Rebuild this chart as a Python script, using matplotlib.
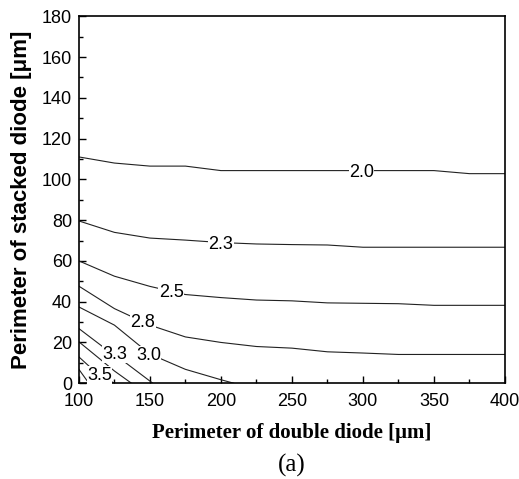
import numpy as np
import matplotlib
matplotlib.use("Agg")
import matplotlib.pyplot as plt

# contour lines (x = double diode, y = stacked diode, in um)
x_200 = [100, 125, 150, 175, 200, 225, 250, 275, 300, 325, 350, 375, 400]
y_200 = [111, 108, 106.5, 106.5, 104.3, 104.3, 104.3, 104.3, 104.3, 104.3, 104.3, 102.8, 102.8]

x_225 = [100, 125, 150, 175, 200, 225, 250, 275, 300, 325, 350, 375, 400]
y_225 = [79.6, 74, 71.2, 70.2, 69, 68.3, 68, 67.8, 66.7, 66.7, 66.7, 66.7, 66.7]

x_250 = [100, 125, 150, 175, 200, 225, 250, 275, 300, 325, 350, 375, 400]
y_250 = [60, 52.5, 47.5, 43.5, 42, 40.8, 40.4, 39.4, 39.2, 39, 38.2, 38.2, 38.2]

x_275 = [100, 125, 150, 175, 200, 225, 250, 275, 300, 325, 350, 375, 400]
y_275 = [47.6, 36.6, 28.5, 22.7, 20, 18, 17.2, 15.4, 14.8, 14.1, 14.1, 14.1, 14.1]

x_300 = [100, 125, 150, 175, 200, 209]
y_300 = [37.4, 28.5, 14.3, 6.8, 1.7, 0]

x_325 = [100, 117, 125, 152]
y_325 = [26.8, 17.8, 14.2, 0]

x_350 = [100, 113, 125, 137]
y_350 = [20.3, 12.9, 6, 0]

x_375 = [100, 114, 125]
y_375 = [12.9, 4, 0]

x_400 = [100, 107]
y_400 = [6.8, 0]

# inline labels
label_text = ["2.0", "2.3", "2.5", "2.8", "3.0", "3.3", "3.5"]
label_x = [299, 200, 165, 145, 149, 125.6, 114.6]
label_y = [103.6, 68.2, 44.3, 29.6, 13.7, 14.2, 3.9]

lines = [(x_200, y_200), (x_225, y_225), (x_250, y_250), (x_275, y_275),
         (x_300, y_300), (x_325, y_325), (x_350, y_350), (x_375, y_375),
         (x_400, y_400)]

fig = plt.figure(figsize=(5.19, 4.79), dpi=100)
ax = fig.add_axes([0.152, 0.200, 0.821, 0.766])

for xs, ys in lines:
    ax.plot(xs, ys, color="#222222", lw=0.8, clip_on=True)

for t, lx, ly in zip(label_text, label_x, label_y):
    ax.text(lx, ly, t, ha="center", va="center", fontsize=13,
            family="Liberation Sans", zorder=5,
            bbox=dict(facecolor="white", edgecolor="none", pad=0.3))

ax.set_xlim(100, 400)
ax.set_ylim(0, 180)
ax.set_xticks(np.arange(100, 401, 50))
ax.set_xticks(np.arange(100, 401, 25), minor=True)
ax.set_yticks(np.arange(0, 181, 20))
ax.set_yticks(np.arange(0, 181, 10), minor=True)
ax.tick_params(which="both", direction="in", top=False, right=False)
ax.tick_params(which="major", length=5, width=1, labelsize=13)
ax.tick_params(axis="x", which="major", pad=7)
ax.tick_params(axis="y", which="major", pad=5)
ax.tick_params(which="minor", length=3, width=1)
for lab in ax.get_xticklabels() + ax.get_yticklabels():
    lab.set_family("Liberation Sans")
for sp in ax.spines.values():
    sp.set_linewidth(1.2)

ax.set_ylabel("Perimeter of stacked diode [\u03bcm]", fontsize=16,
              fontweight="bold", family="Liberation Sans")
ax.yaxis.set_label_coords(-0.11, 0.5)
ax.set_xlabel("Perimeter of double diode [\u03bcm]", fontsize=15,
              fontweight="bold", family="Liberation Serif")
ax.xaxis.set_label_coords(0.5, -0.108)

fig.text(292 / 519, 1 - 465 / 479, "(a)", ha="center", va="center",
         fontsize=18, family="Liberation Serif")

fig.savefig("out.png", dpi=100)
